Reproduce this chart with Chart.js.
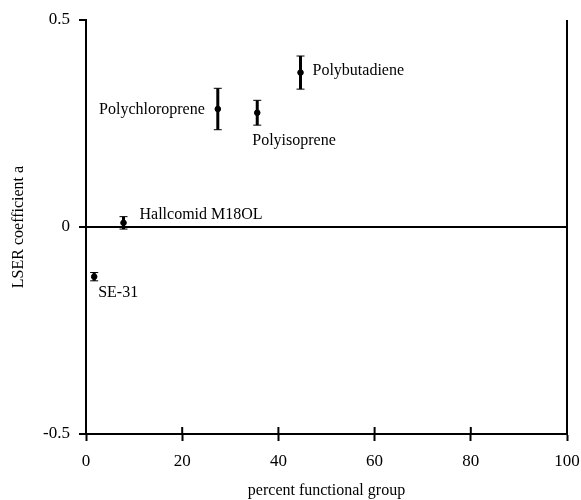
<!DOCTYPE html>
<html>
<head>
<meta charset="utf-8">
<script src="https://cdn.jsdelivr.net/npm/chart.js@4/dist/chart.umd.min.js"></script>
<style>
html,body{margin:0;padding:0;background:#fff;}
#wrap{width:581px;height:500px;}
</style>
</head>
<body>
<div id="wrap"><canvas id="c" width="581" height="500"></canvas></div>
<script>
// ---- data ----
const materials = ["SE-31", "Hallcomid M18OL", "Polychloroprene", "Polyisoprene", "Polybutadiene"];
const percentFunctional = [1.7, 7.8, 27.4, 35.6, 44.6];
const coefficientA = [-0.12, 0.01, 0.285, 0.276, 0.373];
const errorA = [0.01, 0.015, 0.05, 0.03, 0.04];
const xTicks = [0, 20, 40, 60, 80, 100];
const yTicks = [-0.5, 0, 0.5];

// ---- label placement (styling, not data) ----
const labelPlacement = [
  {dx: 4, dy: 16, align: "left"},
  {dx: 16, dy: -8, align: "left"},
  {dx: -13, dy: 1, align: "right"},
  {dx: -5, dy: 28, align: "left"},
  {dx: 12, dy: -2, align: "left"}
];

const FONT = "'Liberation Serif', 'Times New Roman', serif";

const points = percentFunctional.map((x, i) => ({x: x, y: coefficientA[i]}));

const extras = {
  id: "extras",
  afterDatasetsDraw(chart) {
    const ctx = chart.ctx;
    const xs = chart.scales.x, ys = chart.scales.y;
    const area = chart.chartArea;
    ctx.save();
    ctx.strokeStyle = "#000";
    // right frame line
    ctx.lineWidth = 2;
    ctx.beginPath();
    ctx.moveTo(area.right, area.top);
    ctx.lineTo(area.right, area.bottom);
    ctx.stroke();
    // inner tick marks on x axis
    xTicks.forEach(v => {
      const px = xs.getPixelForValue(v);
      ctx.beginPath();
      ctx.moveTo(px, area.bottom);
      ctx.lineTo(px, area.bottom - 7);
      ctx.stroke();
    });
    // error bars
    percentFunctional.forEach((xv, i) => {
      const px = xs.getPixelForValue(xv);
      const yTop = ys.getPixelForValue(coefficientA[i] + errorA[i]);
      const yBot = ys.getPixelForValue(coefficientA[i] - errorA[i]);
      ctx.lineWidth = 3;
      ctx.beginPath();
      ctx.moveTo(px, yTop);
      ctx.lineTo(px, yBot);
      ctx.stroke();
      ctx.lineWidth = 1;
      ctx.beginPath();
      ctx.moveTo(px - 4, yTop); ctx.lineTo(px + 4, yTop);
      ctx.moveTo(px - 4, yBot); ctx.lineTo(px + 4, yBot);
      ctx.stroke();
    });
    // labels
    ctx.fillStyle = "#000";
    ctx.font = "16px " + FONT;
    ctx.textBaseline = "middle";
    materials.forEach((name, i) => {
      const p = labelPlacement[i];
      const px = xs.getPixelForValue(percentFunctional[i]) + p.dx;
      const py = ys.getPixelForValue(coefficientA[i]) + p.dy;
      ctx.textAlign = p.align;
      ctx.fillText(name, px, py);
    });
    ctx.restore();
  }
};

new Chart(document.getElementById("c"), {
  type: "scatter",
  data: {
    datasets: [{
      data: points,
      backgroundColor: "#000",
      borderColor: "#000",
      pointRadius: 2.8,
      pointHoverRadius: 2.8,
      showLine: false
    }]
  },
  options: {
    responsive: false,
    animation: false,
    events: [],
    layout: {padding: {top: 20, right: 14, left: 0, bottom: 0}},
    plugins: {legend: {display: false}, tooltip: {enabled: false}},
    scales: {
      x: {
        type: "linear",
        min: 0, max: 100,
        afterBuildTicks: s => { s.ticks = xTicks.map(v => ({value: v})); },
        afterFit: s => { s.height = 66; s.paddingRight = 0; },
        ticks: {color: "#000", font: {family: FONT, size: 17}, padding: 10, maxRotation: 0},
        grid: {drawOnChartArea: false, drawTicks: true, tickLength: 7, tickWidth: 2, tickColor: "#000"},
        border: {display: true, color: "#000", width: 2},
        title: {display: true, text: "percent functional group", color: "#000", font: {family: FONT, size: 16}, padding: {top: 0, bottom: 0}}
      },
      y: {
        type: "linear",
        min: -0.5, max: 0.5,
        afterBuildTicks: s => { s.ticks = yTicks.map(v => ({value: v})); },
        afterFit: s => { s.width = 86; },
        ticks: {color: "#000", font: {family: FONT, size: 17}, padding: 9},
        grid: {
          drawOnChartArea: true,
          drawTicks: true,
          tickLength: 7,
          tickWidth: 2,
          tickColor: "#000",
          lineWidth: 2,
          color: c => (c.tick && c.tick.value === 0) ? "#000" : "rgba(0,0,0,0)"
        },
        border: {display: true, color: "#000", width: 2},
        title: {display: true, text: "LSER coefficient a", color: "#000", font: {family: FONT, size: 16}, padding: {top: 9, bottom: 0}}
      }
    }
  },
  plugins: [extras]
});
</script>
</body>
</html>
